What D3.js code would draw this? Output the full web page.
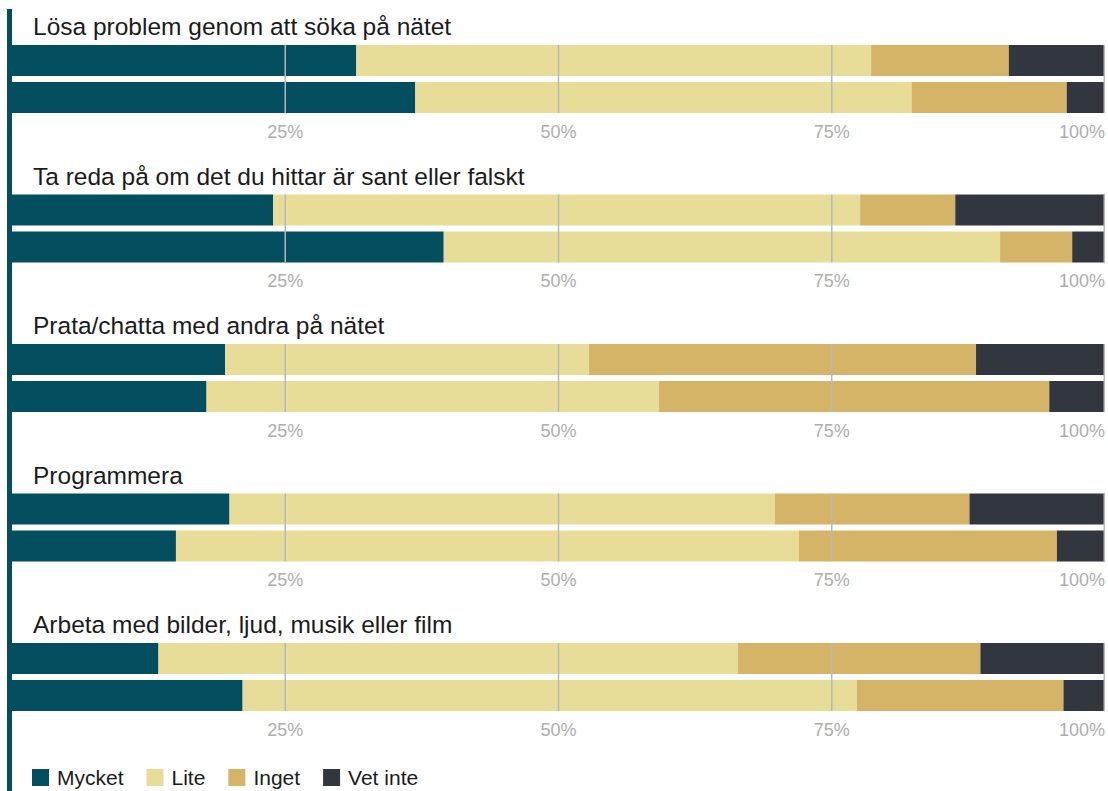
<!DOCTYPE html>
<html lang="sv">
<head>
<meta charset="utf-8">
<script src="https://cdn.jsdelivr.net/npm/d3@7"></script>
<style>
  html, body { margin: 0; padding: 0; background: #fff; }
  svg { display: block; font-family: "Liberation Sans", Arial, sans-serif; }
</style>
</head>
<body>
<svg id="chart" width="1108" height="791"></svg>
<script>
// Frågor (en panel per fråga)
const questions = [
  "Lösa problem genom att söka på nätet",
  "Ta reda på om det du hittar är sant eller falskt",
  "Prata/chatta med andra på nätet",
  "Programmera",
  "Arbeta med bilder, ljud, musik eller film"
];
// Två staplar per fråga
const rows = ["rad1", "rad2"];
// Svarskategorier
const categories = ["Mycket", "Lite", "Inget", "Vet inte"];
// Andelar i procent, [rad1, rad2] per fråga
const mycket  = [[31.5, 36.9], [23.9, 39.5], [19.5, 17.8], [19.9, 15.0], [13.4, 21.1]];
const lite    = [[47.1, 45.4], [53.7, 50.9], [33.3, 41.4], [49.9, 57.0], [53.0, 56.2]];
const inget   = [[12.6, 14.2], [8.7, 6.6],   [35.4, 35.7], [17.8, 23.6], [22.2, 18.9]];
const vetInte = [[8.8, 3.5],   [13.7, 3.0],  [11.8, 5.1],  [12.4, 4.4],  [11.4, 3.8]];
// Axelns skalsteg
const tickValues = [25, 50, 75, 100];
const tickLabels = ["25%", "50%", "75%", "100%"];

const colors = ["#034f60", "#e7dd99", "#d5b367", "#32363f"];

const svg = d3.select("#chart");
const W = 1108, H = 791;

const x = d3.scaleLinear().domain([0, 100]).range([12, 1105]);
const panel = d3.scaleBand().domain(questions).range([45, 45 + 149.5 * questions.length]).padding(0);
const row = d3.scaleBand().domain(rows).range([0, 68]).paddingInner(6 / 37).paddingOuter(0);
const color = d3.scaleOrdinal().domain(categories).range(colors);

const seriesValues = [mycket, lite, inget, vetInte];

// vänster accentlinje
svg.append("rect")
  .attr("x", 7).attr("y", 9)
  .attr("width", 5).attr("height", H - 9)
  .attr("fill", "#034f60");

questions.forEach((q, qi) => {
  const g = svg.append("g").attr("transform", `translate(0,${panel(q)})`);

  g.append("text")
    .attr("x", 33).attr("y", -10)
    .attr("font-size", 24.5)
    .attr("fill", "#1b1b1b")
    .text(q);

  const records = rows.map((r, ri) => {
    const o = { row: r };
    categories.forEach((c, ci) => { o[c] = seriesValues[ci][qi][ri]; });
    return o;
  });
  const stacked = d3.stack().keys(categories)(records);

  g.selectAll("g.series")
    .data(stacked)
    .join("g")
    .attr("class", "series")
    .attr("fill", d => color(d.key))
    .selectAll("rect")
    .data(d => d)
    .join("rect")
    .attr("x", d => x(d[0]))
    .attr("y", d => row(d.data.row))
    .attr("width", d => x(d[1]) - x(d[0]))
    .attr("height", row.bandwidth());

  // rutnät ovanpå staplarna
  g.selectAll("line.grid")
    .data(tickValues)
    .join("line")
    .attr("class", "grid")
    .attr("x1", d => x(d) - (d === 100 ? 0.75 : 0))
    .attr("x2", d => x(d) - (d === 100 ? 0.75 : 0))
    .attr("y1", 0).attr("y2", 68)
    .attr("stroke", "#b8b8b8")
    .attr("stroke-width", 1.5);

  g.selectAll("text.tick")
    .data(tickValues)
    .join("text")
    .attr("class", "tick")
    .attr("x", d => x(d))
    .attr("y", 92.5)
    .attr("text-anchor", d => d === 100 ? "end" : "middle")
    .attr("font-size", 18)
    .attr("fill", "#aeaeae")
    .text((d, i) => tickLabels[i]);
});

// teckenförklaring
const legend = svg.append("g").attr("transform", "translate(32,769)");
let lx = 0;
categories.forEach(c => {
  const item = legend.append("g").attr("transform", `translate(${lx},0)`);
  item.append("rect").attr("width", 17).attr("height", 17).attr("fill", color(c));
  const t = item.append("text")
    .attr("x", 25).attr("y", 16)
    .attr("font-size", 21)
    .attr("fill", "#1b1b1b")
    .text(c);
  lx += 25 + t.node().getComputedTextLength() + 23;
});
</script>
</body>
</html>
